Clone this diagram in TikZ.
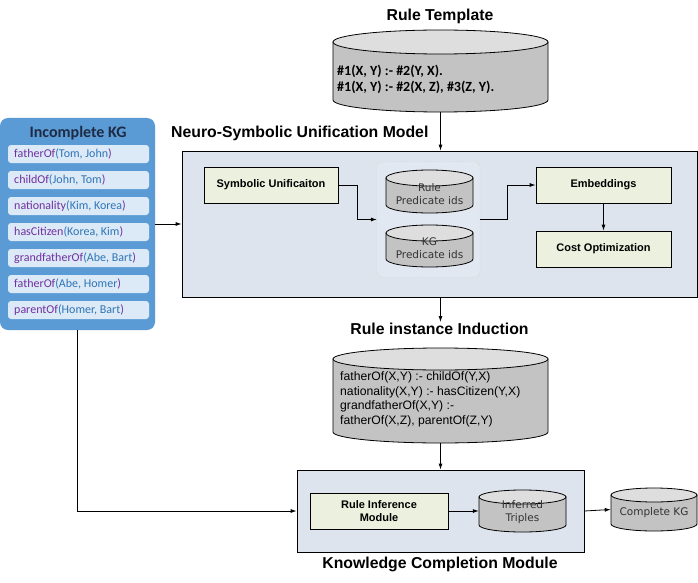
\documentclass[tikz,border=0pt]{standalone}
\usepackage{fontspec}
\setmainfont{Liberation Sans}
\newfontfamily\calfont{Carlito}
\newfontfamily\tahfont{DejaVu Sans}
\usetikzlibrary{arrows.meta,calc}
\definecolor{panelblue}{HTML}{5B9BD5}
\definecolor{rowfill}{HTML}{DCE9F7}
\definecolor{predc}{HTML}{7030A0}
\definecolor{argc}{HTML}{2E75B6}
\definecolor{navy}{HTML}{1F2A44}
\definecolor{boxfill}{HTML}{DDE4EE}
\definecolor{greenfill}{HTML}{EBF1DE}
\definecolor{grpborder}{HTML}{C3D69B}
\definecolor{cylbodyc}{HTML}{C3C3C3}
\definecolor{cyltopc}{HTML}{DEDEDE}
\definecolor{cyltext}{HTML}{333333}
\tikzset{
  cylbody/.style={fill=cylbodyc,draw=black,line width=0.8pt},
  cyltop/.style={fill=cyltopc,draw=black,line width=0.8pt},
  titletext/.style={font=\bfseries\fontsize{15.8}{18}\selectfont,inner sep=1pt},
  panelbox/.style={draw=black,line width=0.8pt,fill=boxfill,inner sep=0},
  greenbox/.style={draw=black,line width=0.8pt,fill=greenfill,font=\bfseries\fontsize{11}{13}\selectfont,align=center,inner sep=0},
  arr/.style={-{Latex[length=6pt,width=4pt]},line width=0.8pt},
  kgrow/.style={fill=rowfill,rounded corners=3pt,minimum width=141pt,minimum height=18pt,inner sep=0},
  kgtext/.style={font=\calfont\fontsize{12}{14}\selectfont,anchor=west,inner sep=0},
  cyllabel/.style={font=\tahfont\fontsize{10.5}{13}\selectfont,text=cyltext,align=center,inner sep=0}
}
\newcommand\mycyl[6]{%
  \pgfmathsetmacro\cylcx{(#2+#4)/2}%
  \pgfmathsetmacro\cylrx{(#4-#2)/2}%
  \pgfmathsetmacro\cylw{#4-#2}%
  \pgfmathsetmacro\cylh{#5-#3}%
  \pgfmathsetmacro\cylcy{(#3+#5)/2}%
  \filldraw[cylbody] (#2,{-(#3+#6)}) -- (#2,{-(#5-#6)}) arc[start angle=180,end angle=360,x radius=\cylrx pt,y radius=#6 pt] -- (#4,{-(#3+#6)}) -- cycle;
  \filldraw[cyltop] (\cylcx,{-(#3+#6)}) ellipse[x radius=\cylrx pt,y radius=#6 pt];
  \node[inner sep=0,minimum width=\cylw pt,minimum height=\cylh pt] (#1) at (\cylcx,-\cylcy) {};
}
\newcommand\kgitem[3]{\textcolor{predc}{#1}\textcolor{argc}{(#2, #3}\textcolor{predc}{)}}
\begin{document}
\begin{tikzpicture}[x=1pt,y=1pt]
\useasboundingbox (0,0) rectangle (698,-583);
\fill[white] (0,0) rectangle (698,-583);

% Rule template
\node[titletext] (tRT) at (440,-16) {Rule Template};
\mycyl{rt}{333}{30}{548}{112}{12}
\node[font=\calfont\bfseries\fontsize{14}{16}\selectfont,align=left,anchor=west,inner sep=0] (rttxt) at (337,-79) {\#1(X, Y) :-\ \#2(Y, X).\\\#1(X, Y) :-\ \#2(X, Z), \#3(Z, Y).};

% Neuro-symbolic unification model
\node[titletext,anchor=west] (tNS) at (170,-133) {Neuro-Symbolic Unification Model};
\node[panelbox,minimum width=515pt,minimum height=146pt] (nsum) at (439.5,-224) {};
\node[greenbox,minimum width=134pt,minimum height=36pt] (su) at (271,-185) {Symbolic Unificaiton};
\node[draw=grpborder,densely dotted,rounded corners=5pt,fill=boxfill!85!white,minimum width=103pt,minimum height=115pt,inner sep=0] (grp) at (428.5,-219.5) {};
\mycyl{rcyl}{386}{170}{473}{213}{8}
\node[cyllabel] (rcyltxt) at (429.5,-194) {Rule\\Predicate ids};
\mycyl{kcyl}{386}{225}{473}{267}{8}
\node[cyllabel] (kcyltxt) at (429.5,-248) {KG\\Predicate ids};
\node[greenbox,minimum width=135pt,minimum height=36pt] (emb) at (603.5,-185) {Embeddings};
\node[greenbox,minimum width=135pt,minimum height=36pt] (cost) at (603.5,-249) {Cost Optimization};
\draw[arr] (su.east) -- ++(19,0) |- (grp.west);
\draw[arr] (grp.east) -- ++(27,0) |- (emb.west);
\draw[arr] (emb.south) -- (cost.north);
\draw[arr] (rt.south) -- (rt.south |- nsum.north);

% Incomplete KG panel
\node[fill=panelblue,rounded corners=8pt,minimum width=155pt,minimum height=212pt,inner sep=0] (kg) at (77.5,-224) {};
\node[font=\calfont\bfseries\fontsize{16}{18}\selectfont,text=navy,inner sep=0] (kgtitle) at (78,-133) {Incomplete KG};
\node[kgrow] (r1) at (78.5,-154) {};
\node[kgrow] (r2) at (78.5,-180) {};
\node[kgrow] (r3) at (78.5,-206) {};
\node[kgrow] (r4) at (78.5,-232) {};
\node[kgrow] (r5) at (78.5,-258) {};
\node[kgrow] (r6) at (78.5,-284) {};
\node[kgrow] (r7) at (78.5,-310) {};
\node[kgtext] (t1) at (14,-154) {\kgitem{fatherOf}{Tom}{John}};
\node[kgtext] (t2) at (14,-180) {\kgitem{childOf}{John}{Tom}};
\node[kgtext] (t3) at (14,-206) {\kgitem{nationality}{Kim}{Korea}};
\node[kgtext] (t4) at (14,-232) {\kgitem{hasCitizen}{Korea}{Kim}};
\node[kgtext] (t5) at (14,-258) {\kgitem{grandfatherOf}{Abe}{Bart}};
\node[kgtext] (t6) at (14,-284) {\kgitem{fatherOf}{Abe}{Homer}};
\node[kgtext] (t7) at (14,-310) {\kgitem{parentOf}{Homer}{Bart}};
\draw[arr] (kg.east) -- (nsum.west);

% Rule instance induction
\node[titletext] (tRI) at (439.5,-329) {Rule instance Induction};
\draw[arr] (nsum.south -| rt.south) -- (tRI.north -| rt.south);
\mycyl{ri}{333}{348}{548}{443}{11}
\node[font=\fontsize{12.2}{14.5}\selectfont,align=left,anchor=west,inner sep=0] (ritxt) at (340,-399.5) {fatherOf(X,Y) :- childOf(Y,X)\\nationality(X,Y) :- hasCitizen(Y,X)\\grandfatherOf(X,Y) :-\\fatherOf(X,Z), parentOf(Z,Y)};

% Knowledge completion module
\node[panelbox,minimum width=287pt,minimum height=82pt] (kcm) at (440.5,-511) {};
\node[greenbox,minimum width=138pt,minimum height=36pt] (rim) at (379,-511) {Rule Inference\\Module};
\mycyl{inf}{479}{490}{566}{532}{7}
\node[cyllabel] (inftxt) at (522.5,-512) {Inferred\\Triples};
\mycyl{ckg}{611}{488}{697}{531}{7}
\node[cyllabel] (ckgtxt) at (654,-513) {Complete KG};
\draw[arr] (rim.east) -- (inf.west);
\draw[arr] (kcm.east) -- (ckg.west);
\draw[arr] (ri.south) -- (ri.south |- kcm.north);
\draw[arr] (kg.south) |- (kcm.west);
\node[titletext] (tKC) at (440,-564) {Knowledge Completion Module};
\end{tikzpicture}
\end{document}
